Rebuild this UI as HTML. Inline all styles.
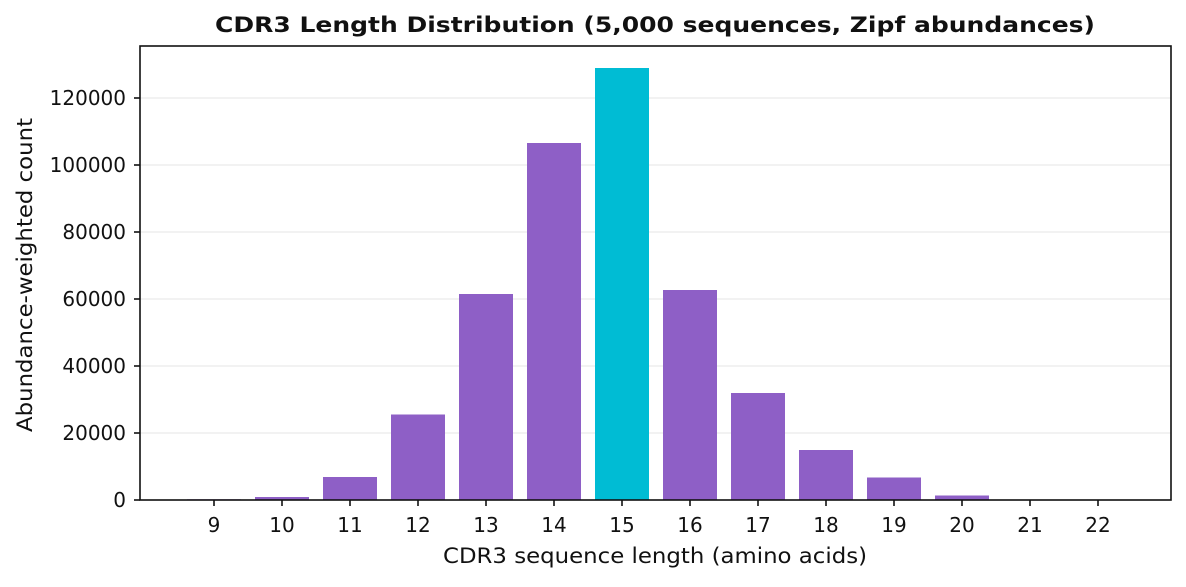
<!DOCTYPE html>
<html><head><meta charset="utf-8"><style>body{margin:0;background:#fff}</style></head><body>
<svg width="1186" height="582" xmlns="http://www.w3.org/2000/svg" font-family="DejaVu Sans, sans-serif">
<rect width="1186" height="582" fill="#fff"/>
<g stroke="#ebebeb" stroke-width="1.2">
<line x1="140" x2="1171" y1="433" y2="433"/><line x1="140" x2="1171" y1="366" y2="366"/>
<line x1="140" x2="1171" y1="299" y2="299"/><line x1="140" x2="1171" y1="232" y2="232"/>
<line x1="140" x2="1171" y1="165" y2="165"/><line x1="140" x2="1171" y1="98" y2="98"/>
</g>
<g fill="#8e5fc6">
<rect x="187" y="499.3" width="54" height="0.7"/>
<rect x="255" y="497" width="54" height="3"/>
<rect x="323" y="477" width="54" height="23"/>
<rect x="391" y="414.5" width="54" height="85.5"/>
<rect x="459" y="294" width="54" height="206"/>
<rect x="527" y="143" width="54" height="357"/>
<rect x="663" y="290" width="54" height="210"/>
<rect x="731" y="393" width="54" height="107"/>
<rect x="799" y="450" width="54" height="50"/>
<rect x="867" y="477.5" width="54" height="22.5"/>
<rect x="935" y="495.5" width="54" height="4.5"/>
<rect x="1003" y="499.6" width="54" height="0.4"/>
</g>
<rect x="595" y="68" width="54" height="432" fill="#00bcd4"/>
<rect x="140" y="46" width="1031" height="454" fill="none" stroke="#111" stroke-width="1.6"/>
<g stroke="#111" stroke-width="1.6">
<line x1="134" x2="140" y1="500" y2="500"/><line x1="134" x2="140" y1="433" y2="433"/><line x1="134" x2="140" y1="366" y2="366"/><line x1="134" x2="140" y1="299" y2="299"/><line x1="134" x2="140" y1="232" y2="232"/><line x1="134" x2="140" y1="165" y2="165"/><line x1="134" x2="140" y1="98" y2="98"/>
<line x1="214" x2="214" y1="500" y2="506"/><line x1="282" x2="282" y1="500" y2="506"/><line x1="350" x2="350" y1="500" y2="506"/><line x1="418" x2="418" y1="500" y2="506"/><line x1="486" x2="486" y1="500" y2="506"/><line x1="554" x2="554" y1="500" y2="506"/><line x1="622" x2="622" y1="500" y2="506"/><line x1="690" x2="690" y1="500" y2="506"/><line x1="758" x2="758" y1="500" y2="506"/><line x1="826" x2="826" y1="500" y2="506"/><line x1="894" x2="894" y1="500" y2="506"/><line x1="962" x2="962" y1="500" y2="506"/><line x1="1030" x2="1030" y1="500" y2="506"/><line x1="1098" x2="1098" y1="500" y2="506"/>
</g>
<g font-size="20" fill="#111" text-anchor="end">
<text x="126" y="507">0</text><text x="126" y="440">20000</text><text x="126" y="373">40000</text><text x="126" y="306">60000</text><text x="126" y="239">80000</text><text x="126" y="172">100000</text><text x="126" y="105">120000</text>
</g>
<g font-size="20" fill="#111" text-anchor="middle">
<text x="214" y="532">9</text><text x="282" y="532">10</text><text x="350" y="532">11</text><text x="418" y="532">12</text><text x="486" y="532">13</text><text x="554" y="532">14</text><text x="622" y="532">15</text><text x="690" y="532">16</text><text x="758" y="532">17</text><text x="826" y="532">18</text><text x="894" y="532">19</text><text x="962" y="532">20</text><text x="1030" y="532">21</text><text x="1098" y="532">22</text>
<text x="655" y="563" font-size="21" textLength="424" lengthAdjust="spacingAndGlyphs">CDR3 sequence length (amino acids)</text>
<text x="655" y="32" font-size="21.5" font-weight="bold" textLength="880" lengthAdjust="spacingAndGlyphs">CDR3 Length Distribution (5,000 sequences, Zipf abundances)</text>
<text transform="translate(32,275) rotate(-90)" font-size="21" textLength="314" lengthAdjust="spacingAndGlyphs">Abundance-weighted count</text>
</g>
</svg>
</body></html>
